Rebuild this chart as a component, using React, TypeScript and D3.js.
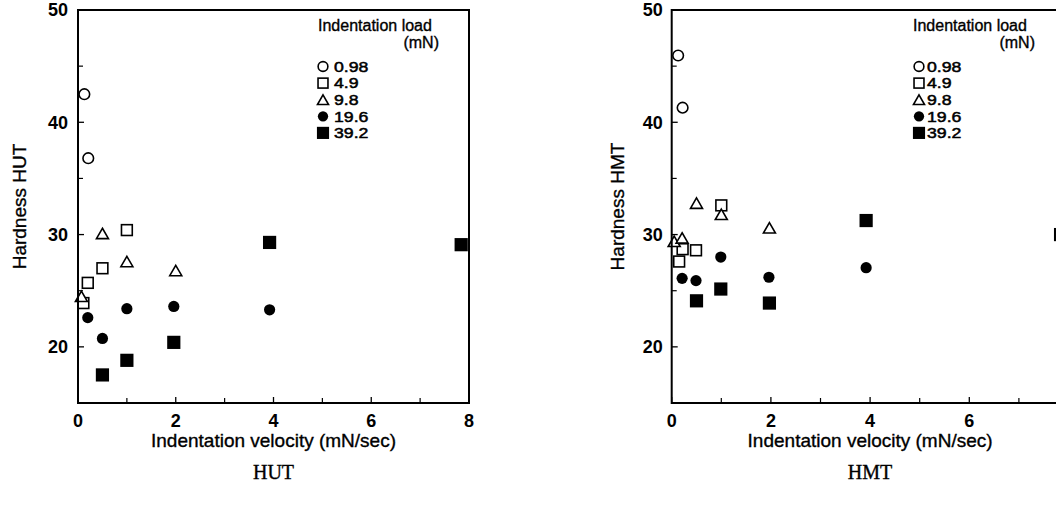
import React from "react";
import * as d3 from "d3";

// ---------- data ----------
const loadLabels = ["0.98", "4.9", "9.8", "19.6", "39.2"];
const markerKinds = ["circleOpen", "squareOpen", "triangleOpen", "circleFilled", "squareFilled"];

// HUT panel
const hut098X = [0.13, 0.21];
const hut098Y = [42.5, 36.8];
const hut49X = [0.11, 0.2, 0.5, 1.0];
const hut49Y = [23.9, 25.7, 27.0, 30.4];
const hut98X = [0.07, 0.5, 1.0, 2.0];
const hut98Y = [24.5, 30.1, 27.6, 26.8];
const hut196X = [0.2, 0.5, 1.0, 1.96, 3.92];
const hut196Y = [22.6, 20.75, 23.4, 23.6, 23.3];
const hut392X = [0.5, 1.0, 1.96, 3.92, 7.84];
const hut392Y = [17.5, 18.8, 20.4, 29.3, 29.1];

// HMT panel
const hmt098X = [0.13, 0.22];
const hmt098Y = [45.95, 41.3];
const hmt49X = [0.15, 0.22, 0.49, 1.0];
const hmt49Y = [27.6, 28.7, 28.6, 32.6];
const hmt98X = [0.05, 0.21, 0.5, 1.0, 1.97];
const hmt98Y = [29.4, 29.7, 32.8, 31.8, 30.6];
const hmt196X = [0.21, 0.49, 0.99, 1.96, 3.92];
const hmt196Y = [26.1, 25.9, 28.0, 26.2, 27.05];
const hmt392X = [0.5, 0.99, 1.97, 3.92, 7.84];
const hmt392Y = [24.1, 25.15, 23.9, 31.25, 30.0];

const xMajorTicks = [0, 2, 4, 6, 8];
const xMinorTicks = [1, 3, 5, 7];
const yMajorTicks = [20, 30, 40, 50];
const yMinorTicks = [25, 35, 45];

const xDomain = [0, 8];
const yDomain = [15, 50];

const legendTitle = "Indentation load";
const legendUnit = "(mN)";
const xTitle = "Indentation velocity (mN/sec)";

const zip = (xs: number[], ys: number[]) => xs.map((x, i) => ({ x, y: ys[i] }));

const panels = [
  {
    name: "HUT",
    yTitle: "Hardness HUT",
    left: 78,
    right: 469,
    yTitleX: 19,
    tickGap: 10,
    legendSymX: 323,
    legendTextX: 334,
    legendTitleX: 318,
    legendUnitX: 439,
    series: [
      zip(hut098X, hut098Y),
      zip(hut49X, hut49Y),
      zip(hut98X, hut98Y),
      zip(hut196X, hut196Y),
      zip(hut392X, hut392Y),
    ],
  },
  {
    name: "HMT",
    yTitle: "Hardness HMT",
    left: 671.7,
    right: 1068.5,
    yTitleX: 617.5,
    tickGap: 9,
    legendSymX: 919,
    legendTextX: 927,
    legendTitleX: 913,
    legendUnitX: 1035,
    series: [
      zip(hmt098X, hmt098Y),
      zip(hmt49X, hmt49Y),
      zip(hmt98X, hmt98Y),
      zip(hmt196X, hmt196Y),
      zip(hmt392X, hmt392Y),
    ],
  },
];

const W = 1056;
const H = 506;
const TOP = 10;
const BOTTOM = 403;
const SANS = "'Liberation Sans', Arial, Helvetica, sans-serif";
const SERIF = "'Liberation Serif', 'Times New Roman', serif";

function Marker({ kind, cx, cy, s = 1 }: { kind: string; cx: number; cy: number; s?: number }) {
  const sw = 1.6;
  if (kind === "circleOpen")
    return <circle cx={cx} cy={cy} r={5.3 * s} fill="#fff" stroke="#000" strokeWidth={sw} />;
  if (kind === "circleFilled") return <circle cx={cx} cy={cy} r={5.6 * s} fill="#000" />;
  if (kind === "squareOpen") {
    const h = 5.4 * s;
    return <rect x={cx - h} y={cy - h} width={2 * h} height={2 * h} fill="#fff" stroke="#000" strokeWidth={sw} />;
  }
  if (kind === "squareFilled") {
    const h = 6.6 * s;
    return <rect x={cx - h} y={cy - h} width={2 * h} height={2 * h} fill="#000" />;
  }
  const w = 6 * s;
  const hh = 5.2 * s;
  const p = d3.path();
  p.moveTo(cx, cy - hh);
  p.lineTo(cx + w, cy + hh);
  p.lineTo(cx - w, cy + hh);
  p.closePath();
  return <path d={p.toString()} fill="#fff" stroke="#000" strokeWidth={sw} strokeLinejoin="miter" />;
}

const heavy = { stroke: "#000", strokeWidth: 0.35 };

function Panel({ cfg }: { cfg: (typeof panels)[number] }) {
  const x = d3.scaleLinear().domain(xDomain).range([cfg.left, cfg.right]);
  const y = d3.scaleLinear().domain(yDomain).range([BOTTOM, TOP]);
  const midX = (cfg.left + cfg.right) / 2;
  const midY = (TOP + BOTTOM) / 2;
  const legendRowY = (i: number) => 66.5 + i * 16.6;
  return (
    <g>
      {cfg.series.map((pts, si) =>
        pts.map((d, i) => (
          <Marker key={`${si}-${i}`} kind={markerKinds[si]} cx={x(d.x)} cy={y(d.y)} />
        ))
      )}
      <rect
        x={cfg.left}
        y={TOP}
        width={cfg.right - cfg.left}
        height={BOTTOM - TOP}
        fill="none"
        stroke="#000"
        strokeWidth={2}
      />
      {yMajorTicks.map((t) => (
        <g key={`ym${t}`}>
          <line x1={cfg.left} x2={cfg.left + 6} y1={y(t)} y2={y(t)} stroke="#000" strokeWidth={1.3} />
          <text
            x={cfg.left - cfg.tickGap}
            y={y(t)}
            dy="0.36em"
            textAnchor="end"
            fontFamily={SANS}
            fontWeight="bold"
            fontSize={18}
          >
            {t}
          </text>
        </g>
      ))}
      {yMinorTicks.map((t) => (
        <line key={`yn${t}`} x1={cfg.left} x2={cfg.left + 5} y1={y(t)} y2={y(t)} stroke="#000" strokeWidth={1.2} />
      ))}
      {xMajorTicks.map((t) => (
        <g key={`xm${t}`}>
          <line x1={x(t)} x2={x(t)} y1={BOTTOM} y2={BOTTOM - 6} stroke="#000" strokeWidth={1.3} />
          {x(t) + 6 < W && (
            <text x={x(t)} y={427} textAnchor="middle" fontFamily={SANS} fontWeight="bold" fontSize={18}>
              {t}
            </text>
          )}
        </g>
      ))}
      {xMinorTicks.map((t) => (
        <line key={`xn${t}`} x1={x(t)} x2={x(t)} y1={BOTTOM} y2={BOTTOM - 5} stroke="#000" strokeWidth={1.2} />
      ))}
      <text
        transform={`translate(${cfg.yTitleX},${midY}) rotate(-90)`}
        textAnchor="middle"
        dy="0.36em"
        fontFamily={SANS}
        fontSize={19}
        {...heavy}
      >
        {cfg.yTitle}
      </text>
      <text x={midX} y={447} textAnchor="middle" fontFamily={SANS} fontSize={19} {...heavy}>
        {xTitle}
      </text>
      <text x={midX} y={479} textAnchor="middle" fontFamily={SERIF} fontSize={20} {...heavy}>
        {cfg.name}
      </text>
      <text x={cfg.legendTitleX} y={31} fontFamily={SANS} fontSize={16} {...heavy}>
        {legendTitle}
      </text>
      <text x={cfg.legendUnitX} y={48} textAnchor="end" fontFamily={SANS} fontSize={16} {...heavy}>
        {legendUnit}
      </text>
      {loadLabels.map((lab, i) => (
        <g key={lab}>
          <Marker kind={markerKinds[i]} cx={cfg.legendSymX} cy={legendRowY(i)} s={0.92} />
          <text
            transform={`translate(${cfg.legendTextX},${legendRowY(i)}) scale(1.22,1)`}
            dy="0.36em"
            fontFamily={SANS}
            fontSize={14.5}
            stroke="#000"
            strokeWidth={0.5}
          >
            {lab}
          </text>
        </g>
      ))}
    </g>
  );
}

export default function App() {
  return (
    <svg
      width={W}
      height={H}
      viewBox={`0 0 ${W} ${H}`}
      style={{ position: "absolute", left: 0, top: 0, background: "#fff" }}
    >
      <rect x={0} y={0} width={W} height={H} fill="#fff" />
      {panels.map((p) => (
        <Panel key={p.name} cfg={p} />
      ))}
    </svg>
  );
}
